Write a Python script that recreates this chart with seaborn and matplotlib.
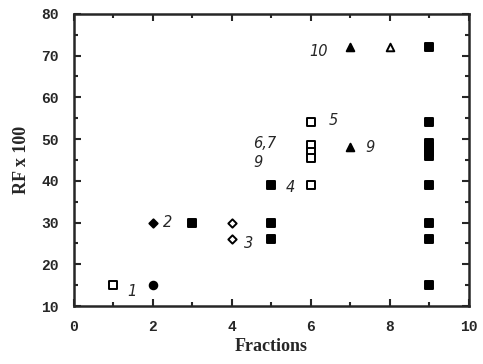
import numpy as np
import pandas as pd
import matplotlib
matplotlib.use('Agg')
import matplotlib.pyplot as plt
import seaborn as sns
from matplotlib.ticker import MultipleLocator

# data
fraction = [1, 2, 2, 3, 4, 4, 5, 5, 5, 6, 6, 6, 6, 6, 7, 7, 8,
            9, 9, 9, 9, 9, 9, 9, 9, 9, 9]
rf = [15, 15, 30, 30, 30, 26, 39, 30, 26, 54, 48.5, 47, 45.5, 39, 72, 48, 72,
      72, 54, 49, 48, 47, 46, 39, 30, 26, 15]
kind = ['osq', 'fcirc', 'fdia', 'fsq', 'odia', 'odia', 'fsq', 'fsq', 'fsq',
        'osq', 'osq', 'osq', 'osq', 'osq', 'ftri', 'ftri', 'otri',
        'fsq', 'fsq', 'fsq', 'fsq', 'fsq', 'fsq', 'fsq', 'fsq', 'fsq', 'fsq']

lab_text = ['1', '2', '3', '4', '5', '6,7', '9', '9', '10']
lab_x = [1.47, 2.38, 4.42, 5.47, 6.56, 4.83, 4.66, 7.5, 6.18]
lab_y = [13.4, 30, 25, 38.5, 54.5, 49, 44.3, 48, 71]

df = pd.DataFrame({'Fractions': fraction, 'RF': rf, 'kind': kind})

sns.set_style('ticks')
fig = plt.figure(figsize=(4.83, 3.64), dpi=100)
ax = fig.add_axes([0.153, 0.159, 0.818, 0.803])

styles = {
    'osq':   ('s', 'white'),
    'fsq':   ('s', 'black'),
    'fcirc': ('o', 'black'),
    'fdia':  ('D', 'black'),
    'odia':  ('D', 'white'),
    'ftri':  ('^', 'black'),
    'otri':  ('^', 'white'),
}
for k, (m, fc) in styles.items():
    sub = df[df['kind'] == k]
    sz = 18 if m == 'D' else 30
    sns.scatterplot(data=sub, x='Fractions', y='RF', marker=m, s=sz,
                    color=fc, edgecolor='black', linewidth=1.4, ax=ax,
                    legend=False, zorder=3)

for t, x, y in zip(lab_text, lab_x, lab_y):
    ax.text(x, y, t, fontsize=10.5, style='italic', family='DejaVu Sans',
            ha='center', va='center')

ax.set_xlim(0, 10)
ax.set_ylim(10, 80)
ax.xaxis.set_major_locator(MultipleLocator(2))
ax.xaxis.set_minor_locator(MultipleLocator(1))
ax.yaxis.set_major_locator(MultipleLocator(10))
ax.yaxis.set_minor_locator(MultipleLocator(5))
ax.tick_params(which='both', direction='in', top=True, right=True,
               labelsize=10.5, width=1.5)
ax.tick_params(which='major', length=5)
ax.tick_params(which='minor', length=3)
ax.tick_params(axis='y', pad=11)
ax.tick_params(axis='x', pad=10)
for lbl in ax.get_xticklabels() + ax.get_yticklabels():
    lbl.set_family('Liberation Mono')
    lbl.set_weight('bold')
for sp in ax.spines.values():
    sp.set_linewidth(1.8)

ax.set_xlabel('Fractions', family='Liberation Serif', weight='bold',
              fontsize=13, labelpad=3)
ax.set_ylabel('RF x 100', family='Liberation Serif', weight='bold',
              fontsize=13, labelpad=8)

fig.savefig('out.png', dpi=100)
